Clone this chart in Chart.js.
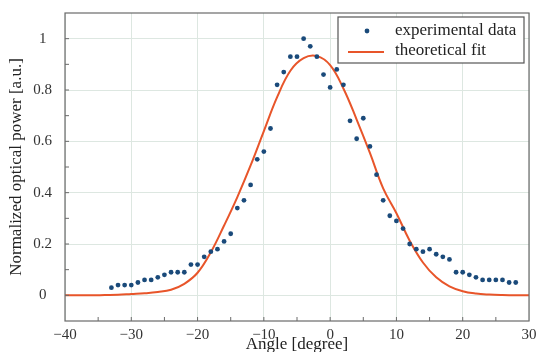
<!DOCTYPE html>
<html><head><meta charset="utf-8">
<script src="https://cdn.jsdelivr.net/npm/chart.js@4.4.1/dist/chart.umd.min.js"></script>
<style>html,body{margin:0;padding:0;background:#fff}#wrap{width:539px;height:352px}</style>
</head><body><div id="wrap"><canvas id="c" width="539" height="352"></canvas></div>
<script>
const expAngles = [-33,-32,-31,-30,-29,-28,-27,-26,-25,-24,-23,-22,-21,-20,-19,-18,-17,-16,-15,-14,-13,-12,-11,-10,-9,-8,-7,-6,-5,-4,-3,-2,-1,0,1,2,3,4,5,6,7,8,9,10,11,12,13,14,15,16,17,18,19,20,21,22,23,24,25,26,27,28];
const expPower = [0.03,0.04,0.04,0.04,0.05,0.06,0.06,0.07,0.08,0.09,0.09,0.09,0.12,0.12,0.15,0.17,0.18,0.21,0.24,0.34,0.37,0.43,0.53,0.56,0.65,0.82,0.87,0.93,0.93,1.00,0.97,0.93,0.86,0.81,0.88,0.82,0.68,0.61,0.69,0.58,0.47,0.37,0.31,0.29,0.26,0.20,0.18,0.17,0.18,0.16,0.15,0.14,0.09,0.09,0.08,0.07,0.06,0.06,0.06,0.06,0.05,0.05];
const fitAngles = [-40,-38,-36,-34,-32,-30,-28,-26,-24,-22,-20,-18,-16,-14,-12,-10,-8,-6,-4,-2,0,2,4,6,8,10,12,14,16,18,20,22,24,26,28,30];
const fitPower = [0,0,0,0.001,0.002,0.005,0.008,0.013,0.022,0.045,0.088,0.168,0.272,0.383,0.506,0.64,0.772,0.875,0.924,0.932,0.897,0.806,0.685,0.555,0.417,0.32,0.213,0.128,0.07,0.035,0.016,0.007,0.003,0.001,0,0];
const xTicks = [-40,-30,-20,-10,0,10,20,30];
const yTicks = [0,0.2,0.4,0.6,0.8,1];
const xMinorTicks = [-35,-30,-25,-20,-15,-10,-5,0,5,10,15,20,25];
const yMinorTicks = [0,0.1,0.2,0.3,0.4,0.5,0.6,0.7,0.8,0.9,1.0];
const seriesLabels = ['experimental data','theoretical fit'];
const xTitle = 'Angle [degree]';
const yTitle = 'Normalized optical power [a.u.]';

const SERIF = "'Liberation Serif', 'Times New Roman', serif";
const DOT = '#1a4a7a';
const LINE = '#e8552a';
const GRID = '#dde7e1';
const FRAME = '#6a6a6a';

const framePlugin = {
  id: 'frame',
  afterDraw(chart) {
    const {ctx, chartArea: ca, scales} = chart;
    ctx.save();
    ctx.strokeStyle = FRAME;
    ctx.lineWidth = 1.2;
    ctx.strokeRect(ca.left, ca.top, ca.right - ca.left, ca.bottom - ca.top);
    ctx.lineWidth = 1;
    ctx.beginPath();
    xMinorTicks.forEach(v => {
      const x = scales.x.getPixelForValue(v);
      ctx.moveTo(x, ca.bottom); ctx.lineTo(x, ca.bottom - 4);
    });
    yMinorTicks.forEach(v => {
      const y = scales.y.getPixelForValue(v);
      ctx.moveTo(ca.left, y); ctx.lineTo(ca.left + 4, y);
    });
    ctx.stroke();

    // legend
    const bx = ca.right - 191, by = ca.top + 4, bw = 186, bh = 46;
    ctx.fillStyle = '#fff';
    ctx.fillRect(bx, by, bw, bh);
    ctx.strokeStyle = '#555';
    ctx.lineWidth = 1.2;
    ctx.strokeRect(bx, by, bw, bh);
    ctx.fillStyle = DOT;
    ctx.beginPath();
    ctx.arc(bx + 29, by + 14, 2.4, 0, Math.PI * 2);
    ctx.fill();
    ctx.strokeStyle = LINE;
    ctx.lineWidth = 2;
    ctx.beginPath();
    ctx.moveTo(bx + 10, by + 35); ctx.lineTo(bx + 46, by + 35);
    ctx.stroke();
    ctx.fillStyle = '#222';
    ctx.font = "17px " + SERIF;
    ctx.textBaseline = 'middle';
    ctx.textAlign = 'left';
    ctx.fillText(chart.data.datasets[0].label, bx + 57, by + 14);
    ctx.fillText(chart.data.datasets[1].label, bx + 57, by + 34);
    ctx.restore();
  }
};

const fmt = v => v < 0 ? '\u2212' + Math.abs(v) : String(v);

new Chart(document.getElementById('c'), {
  type: 'scatter',
  data: {
    datasets: [
      {
        label: seriesLabels[0],
        data: expAngles.map((a, i) => ({x: a, y: expPower[i]})),
        pointRadius: 2.4,
        pointBackgroundColor: DOT,
        pointBorderWidth: 0,
        showLine: false
      },
      {
        label: seriesLabels[1],
        data: fitAngles.map((a, i) => ({x: a, y: fitPower[i]})),
        showLine: true,
        borderColor: LINE,
        borderWidth: 2,
        pointRadius: 0,
        tension: 0.4,
        fill: false
      }
    ]
  },
  options: {
    responsive: false,
    animation: false,
    layout: {padding: {left: 0, right: 10, top: 13, bottom: 0}},
    plugins: {legend: {display: false}, tooltip: {enabled: false}},
    scales: {
      x: {
        type: 'linear', min: -40, max: 30,
        afterBuildTicks: s => { s.ticks = xTicks.map(v => ({value: v})); },
        afterFit: s => { s.height = 31; s.paddingLeft = 0; s.paddingRight = 0; },
        grid: {color: GRID, drawTicks: false, lineWidth: 1},
        border: {display: false},
        ticks: {font: {family: SERIF, size: 15}, color: '#333', padding: 5, maxRotation: 0, callback: v => fmt(v)},
        title: {display: true, text: xTitle, font: {family: SERIF, size: 17}, color: '#222', padding: {top: 0, bottom: -3}}
      },
      y: {
        type: 'linear', min: -0.1, max: 1.1,
        afterBuildTicks: s => { s.ticks = yTicks.map(v => ({value: v})); },
        afterFit: s => { s.width = 65; s.paddingTop = 0; s.paddingBottom = 0; },
        grid: {color: GRID, drawTicks: false, lineWidth: 1},
        border: {display: false},
        ticks: {font: {family: SERIF, size: 15}, color: '#333', padding: 13, crossAlign: 'center', callback: v => fmt(v)},
        title: {display: true, text: yTitle, font: {family: SERIF, size: 17}, color: '#222', padding: {top: 6, bottom: 0}}
      }
    }
  },
  plugins: [framePlugin]
});
</script></body></html>
